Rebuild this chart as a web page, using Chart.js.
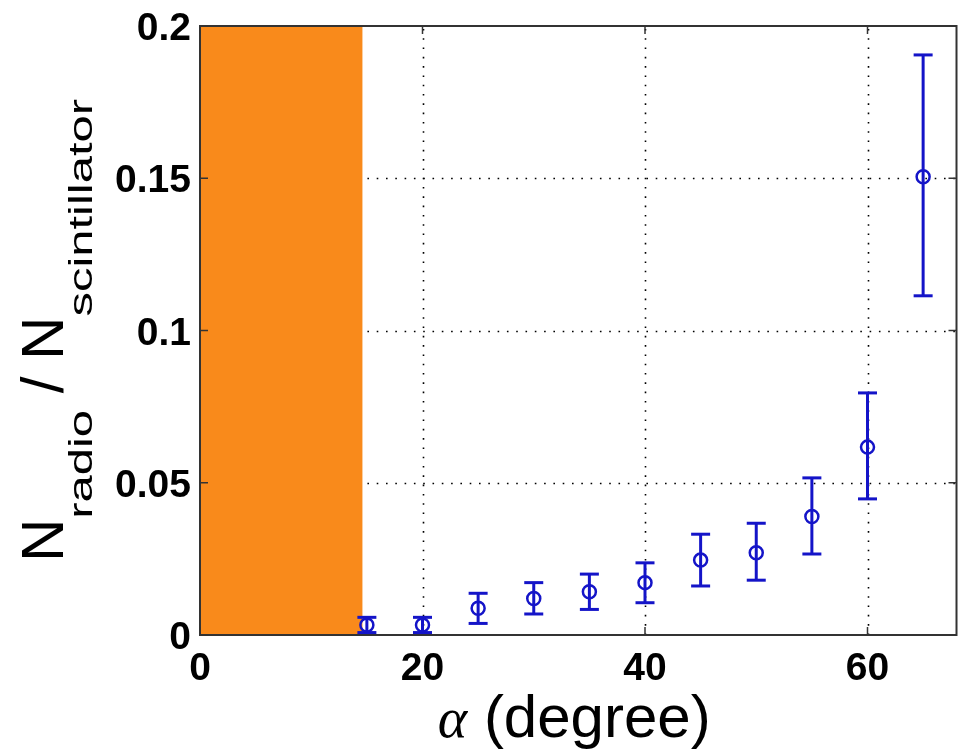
<!DOCTYPE html>
<html>
<head>
<meta charset="utf-8">
<script src="https://cdn.jsdelivr.net/npm/chart.js@4.4.1/dist/chart.umd.min.js"></script>
<style>
  body { margin: 0; background: #fff; }
  #wrap { width: 958px; height: 752px; position: relative; }
</style>
</head>
<body>
<div id="wrap"><canvas id="myChart"></canvas></div>
<script>
// alpha in degrees, ratio N_radio / N_scintillator with error bar ends
const alpha = [15, 20, 25, 30, 35, 40, 45, 50, 55, 60, 65];
const ratio = [0.0033, 0.0033, 0.0088, 0.012, 0.0142, 0.0172, 0.0246, 0.027, 0.0389, 0.0617, 0.1505];
const ratioHigh = [0.0058, 0.0058, 0.0137, 0.0172, 0.020, 0.0237, 0.0331, 0.0367, 0.0516, 0.0795, 0.1905];
const ratioLow = [0.0008, 0.0008, 0.0038, 0.0069, 0.0084, 0.0106, 0.0161, 0.018, 0.0266, 0.0447, 0.1114];
const xTicks = [0, 20, 40, 60];
const yTicks = [0, 0.05, 0.1, 0.15, 0.2];
const shadedRange = [0, 14.6];

const blue = "#1414c8";
const orange = "#f98a1b";
const sans = "'Liberation Sans', Arial, sans-serif";

function line(ctx, x1, y1, x2, y2) {
  ctx.beginPath();
  ctx.moveTo(x1, y1);
  ctx.lineTo(x2, y2);
  ctx.stroke();
}

const overlay = {
  id: "overlay",
  beforeDatasetsDraw(chart) {
    const { ctx, chartArea: a, scales: { x, y } } = chart;
    ctx.save();

    // dotted grid
    ctx.strokeStyle = "#000";
    ctx.lineWidth = 1.6;
    ctx.setLineDash([1.6, 7.7]);
    xTicks.forEach(v => {
      if (v <= x.min || v >= x.max) return;
      let px = Math.round(x.getPixelForValue(v)) + 0.5;
      line(ctx, px, a.bottom, px, a.top);
    });
    yTicks.forEach(v => {
      if (v <= y.min || v >= y.max) return;
      let py = Math.round(y.getPixelForValue(v)) + 0.5;
      line(ctx, a.left, py, a.right, py);
    });
    ctx.setLineDash([]);

    // shaded region
    let x0 = x.getPixelForValue(shadedRange[0]);
    let x1 = x.getPixelForValue(shadedRange[1]);
    ctx.fillStyle = orange;
    ctx.fillRect(x0, a.top, x1 - x0, a.bottom - a.top);

    // box and inward ticks
    ctx.strokeStyle = "#333";
    ctx.lineWidth = 2;
    ctx.strokeRect(a.left, a.top, a.right - a.left, a.bottom - a.top);
    ctx.lineWidth = 1.5;
    xTicks.forEach(v => {
      let px = x.getPixelForValue(v);
      line(ctx, px, a.bottom, px, a.bottom - 8);
      line(ctx, px, a.top, px, a.top + 8);
    });
    yTicks.forEach(v => {
      let py = y.getPixelForValue(v);
      line(ctx, a.left, py, a.left + 8, py);
      line(ctx, a.right, py, a.right - 8, py);
    });

    // tick labels
    ctx.fillStyle = "#000";
    ctx.font = "bold 39px " + sans;
    ctx.textBaseline = "alphabetic";
    ctx.textAlign = "right";
    yTicks.forEach(v => {
      ctx.fillText(String(v), a.left - 9, y.getPixelForValue(v) + 14);
    });
    ctx.textAlign = "center";
    xTicks.forEach(v => {
      ctx.fillText(String(v), x.getPixelForValue(v), a.bottom + 45);
    });

    // error bars
    ctx.strokeStyle = blue;
    ctx.lineWidth = 3;
    alpha.forEach((v, i) => {
      let px = x.getPixelForValue(v);
      let hi = y.getPixelForValue(ratioHigh[i]);
      let lo = y.getPixelForValue(ratioLow[i]);
      line(ctx, px, hi, px, lo);
      line(ctx, px - 9.5, hi, px + 9.5, hi);
      line(ctx, px - 9.5, lo, px + 9.5, lo);
    });
    ctx.restore();
  },
  afterDraw(chart) {
    const { ctx, chartArea: a } = chart;
    ctx.save();
    ctx.fillStyle = "#000";
    ctx.textBaseline = "alphabetic";
    ctx.textAlign = "left";

    // y title: N_radio / N_scintillator, rotated
    const big = "60px " + sans;
    const small = "34px " + sans;
    const stretch = 1.44;
    const parts = [["N", false], ["radio", true], [" / ", false], ["N", false], ["scintillator", true]];
    let widths = parts.map(([t, sub]) => {
      ctx.font = sub ? small : big;
      return ctx.measureText(t).width * (sub ? stretch : 1);
    });
    let total = widths.reduce((s, w) => s + w, 0);
    ctx.translate(63, (a.top + a.bottom) / 2);
    ctx.rotate(-Math.PI / 2);
    let pos = -total / 2;
    parts.forEach(([t, sub], i) => {
      if (sub) {
        ctx.save();
        ctx.font = small;
        ctx.translate(pos, 29);
        ctx.scale(stretch, 1);
        ctx.fillText(t, 0, 0);
        ctx.restore();
      } else {
        ctx.font = big;
        ctx.fillText(t, pos, 0);
      }
      pos += widths[i];
    });
    ctx.restore();

    // x title: alpha (degree)
    ctx.save();
    ctx.fillStyle = "#000";
    ctx.textBaseline = "alphabetic";
    const greek = "italic 56px 'Liberation Serif', 'Times New Roman', serif";
    const rest = "60px " + sans;
    ctx.font = greek;
    let wa = ctx.measureText("\u03b1").width;
    ctx.font = rest;
    let wr = ctx.measureText(" (degree)").width;
    let sx = (a.left + a.right) / 2 - 4 - (wa + wr) / 2;
    ctx.font = greek;
    ctx.fillText("\u03b1", sx, 737);
    ctx.font = rest;
    ctx.fillText(" (degree)", sx + wa, 737);
    ctx.restore();
  }
};

new Chart(document.getElementById("myChart"), {
  type: "scatter",
  data: {
    datasets: [{
      label: "ratio",
      data: alpha.map((v, i) => ({ x: v, y: ratio[i] })),
      borderColor: blue,
      backgroundColor: "rgba(0,0,0,0)",
      pointRadius: 6.5,
      pointBorderWidth: 2.5,
      showLine: false
    }]
  },
  options: {
    responsive: true,
    maintainAspectRatio: false,
    animation: false,
    layout: { autoPadding: false, padding: { top: 26, right: 1.5, left: 0, bottom: 0 } },
    plugins: { legend: { display: false }, tooltip: { enabled: false } },
    scales: {
      x: {
        type: "linear",
        min: 0,
        max: 68,
        afterBuildTicks: s => { s.ticks = xTicks.map(v => ({ value: v })); },
        afterFit: s => { s.height = 117; },
        grid: { display: false },
        border: { display: false },
        ticks: { display: false }
      },
      y: {
        type: "linear",
        min: 0,
        max: 0.2,
        afterBuildTicks: s => { s.ticks = yTicks.map(v => ({ value: v })); },
        afterFit: s => { s.width = 200; },
        grid: { display: false },
        border: { display: false },
        ticks: { display: false }
      }
    }
  },
  plugins: [overlay]
});
</script>
</body>
</html>
